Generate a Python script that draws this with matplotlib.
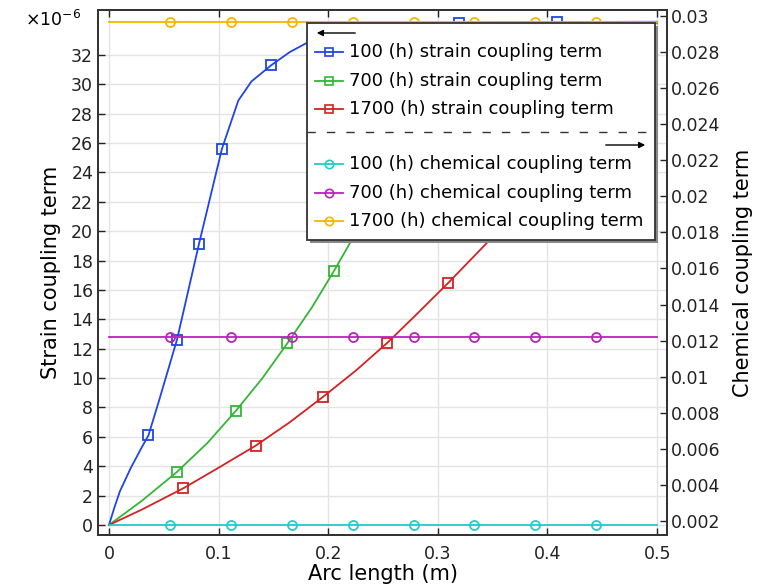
import matplotlib
matplotlib.use('Agg')
import matplotlib.pyplot as plt
from matplotlib.patches import Rectangle
from matplotlib.ticker import FormatStrFormatter, MultipleLocator

plt.rcParams['font.family'] = 'DejaVu Sans'

# strain coupling term, in units of 1e-6
blue_x = [0, 0.005, 0.01, 0.02, 0.03, 0.036, 0.045, 0.062, 0.082, 0.103, 0.118, 0.13,
          0.148, 0.165, 0.18, 0.2, 0.25, 0.3, 0.319, 0.35, 0.409, 0.45, 0.5]
blue_y = [0, 1.2, 2.3, 3.9, 5.3, 6.1, 8.3, 12.6, 19.1, 25.6, 28.9, 30.2,
          31.3, 32.2, 32.8, 33.3, 33.9, 34.15, 34.2, 34.22, 34.24, 34.25, 34.26]
blue_marks = [5, 7, 8, 9, 12, 18, 20]

green_x = [0, 0.03, 0.0617, 0.09, 0.1156, 0.14, 0.1627, 0.185, 0.2053, 0.2214,
           0.25, 0.275, 0.3, 0.35, 0.4, 0.45, 0.5]
green_y = [0, 1.65, 3.59, 5.6, 7.76, 10.0, 12.37, 14.8, 17.3, 19.4,
           23.3, 26.5, 29.0, 32.3, 33.7, 34.0, 34.15]
green_marks = [2, 4, 6, 8, 11, 13]

red_x = [0, 0.03, 0.0678, 0.1, 0.1338, 0.165, 0.1955, 0.225, 0.254, 0.28, 0.309,
         0.3385, 0.37, 0.4, 0.45, 0.5]
red_y = [0, 1.05, 2.5, 3.9, 5.4, 7.0, 8.74, 10.5, 12.41, 14.3, 16.45,
         18.72, 21.2, 23.8, 28.0, 32.0]
red_marks = [2, 4, 6, 8, 10, 12, 14]

# chemical coupling term
chem_x = [0, 0.0556, 0.1111, 0.1667, 0.2222, 0.2778, 0.3333, 0.3889, 0.4444, 0.5]
chem_100 = [0.00177] * 10
chem_700 = [0.01222] * 10
chem_1700 = [0.02967] * 10

strain_labels = ['100 (h) strain coupling term', '700 (h) strain coupling term',
                 '1700 (h) strain coupling term']
chem_labels = ['100 (h) chemical coupling term', '700 (h) chemical coupling term',
               '1700 (h) chemical coupling term']
strain_colors = ['#1f45e6', '#35b535', '#d42222']
chem_colors = ['#22cccc', '#bb22bb', '#f7b500']

W, H = 761, 586
fig = plt.figure(figsize=(W / 100, H / 100), dpi=100)
ax = fig.add_axes([98 / W, 1 - 535 / H, (667 - 98) / W, (535 - 10) / H])
ax2 = ax.twinx()

strain = [(blue_x, blue_y, blue_marks), (green_x, green_y, green_marks),
          (red_x, red_y, red_marks)]
for (xs, ys, mk), c in zip(strain, strain_colors):
    ax.plot(xs, ys, color=c, lw=1.3, marker='s', ms=7, mfc='none', mew=1.3,
            markevery=mk)

for ys, c in zip([chem_100, chem_700, chem_1700], chem_colors):
    ax2.plot(chem_x, ys, color=c, lw=1.3, marker='o', ms=6.5, mfc='none', mew=1.3,
             markevery=list(range(1, 9)))

ax.set_xlim(-0.01, 0.509)
ax.set_ylim(-0.68, 35.06)
ax.xaxis.set_major_locator(MultipleLocator(0.1))
ax.xaxis.set_major_formatter(FormatStrFormatter('%g'))
ax.set_yticks(range(0, 33, 2))
ax2.yaxis.set_major_locator(MultipleLocator(0.002))
ax2.yaxis.set_major_formatter(FormatStrFormatter('%g'))
ax2.set_ylim(0.001224, 0.03033)

ax.grid(True, color='#e4e4e4', lw=1)
ax.set_axisbelow(True)
ax.tick_params(axis='both', direction='in', labelsize=12.5, length=5, width=1,
               top=True, colors='#222222')
ax.tick_params(axis='x', pad=7)
ax2.tick_params(axis='y', direction='in', labelsize=12.5, length=5, width=1, pad=3,
                colors='#222222')
for a in (ax, ax2):
    for s in a.spines.values():
        s.set_color('#333333')
        s.set_linewidth(1.3)

ax.set_xlabel('Arc length (m)', fontsize=15, labelpad=1)
ax.set_ylabel('Strain coupling term', fontsize=15, labelpad=7)
ax2.set_ylabel('Chemical coupling term', fontsize=15, labelpad=9)
fig.text(25 / W, 1 - 20 / H, '×10$^{-6}$', fontsize=12.5, va='center', ha='left')

# legend drawn by hand, in pixel-like coordinates of its own axes
lx0, ly0, lx1, ly1 = 307, 23, 655, 240
lax = fig.add_axes([lx0 / W, 1 - ly1 / H, (lx1 - lx0) / W, (ly1 - ly0) / H])
lax.set_zorder(10)
lax.set_xlim(0, lx1 - lx0)
lax.set_ylim(ly1 - ly0, 0)
lax.axis('off')
lax.add_patch(Rectangle((3, 3), lx1 - lx0, ly1 - ly0, facecolor='#888888',
                        edgecolor='none', clip_on=False, zorder=1))
lax.add_patch(Rectangle((0, 0), lx1 - lx0, ly1 - ly0, facecolor='white',
                        edgecolor='#333333', lw=1.3, clip_on=False, zorder=2))

rows_strain = [29, 58, 86]
rows_chem = [141, 170, 198]
for y, lab, c in zip(rows_strain, strain_labels, strain_colors):
    lax.plot([8, 36], [y, y], color=c, lw=1.3, zorder=3)
    lax.plot([22], [y], color=c, marker='s', ms=6, mfc='none', mew=1.2, zorder=3)
    lax.text(42, y, lab, fontsize=13, va='center', ha='left', zorder=4)
for y, lab, c in zip(rows_chem, chem_labels, chem_colors):
    lax.plot([8, 36], [y, y], color=c, lw=1.3, zorder=3)
    lax.plot([22], [y], color=c, marker='o', ms=6, mfc='none', mew=1.2, zorder=3)
    lax.text(42, y, lab, fontsize=13, va='center', ha='left', zorder=4)

lax.plot([0, lx1 - lx0], [109, 109], color='#333333', lw=1, ls=(0, (6, 8)), zorder=3)
lax.annotate('', xy=(7, 10), xytext=(51, 10),
             arrowprops=dict(arrowstyle='-|>', color='black', lw=1, mutation_scale=9))
lax.annotate('', xy=(341, 122), xytext=(296, 122),
             arrowprops=dict(arrowstyle='-|>', color='black', lw=1, mutation_scale=9))

fig.savefig('out.png', dpi=100)
